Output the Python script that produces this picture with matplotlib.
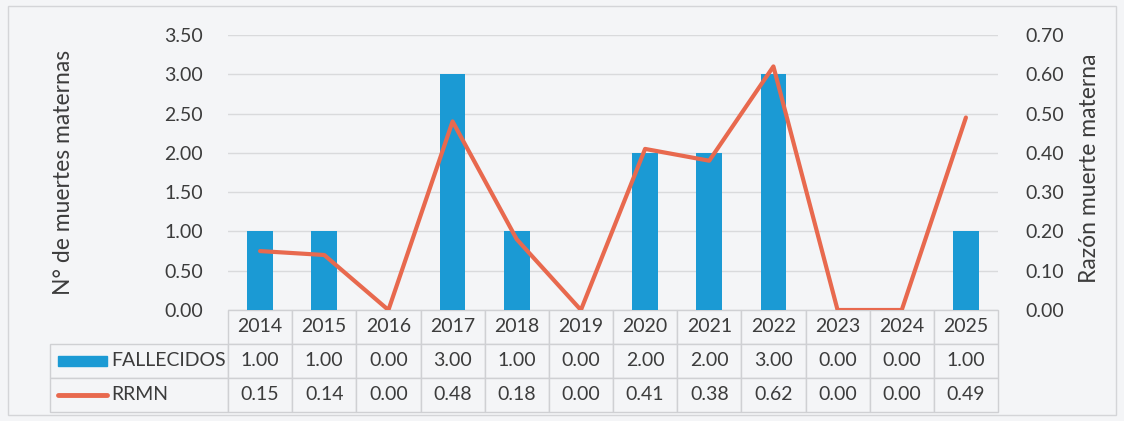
import matplotlib
matplotlib.use("Agg")
import matplotlib.pyplot as plt
import matplotlib.patches as mpatches
from matplotlib.lines import Line2D
from matplotlib.table import Table
import numpy as np

plt.rcParams['font.family'] = ['Lato', 'DejaVu Sans']

# data
years = ['2014', '2015', '2016', '2017', '2018', '2019',
         '2020', '2021', '2022', '2023', '2024', '2025']
fallecidos = [1.00, 1.00, 0.00, 3.00, 1.00, 0.00, 2.00, 2.00, 3.00, 0.00, 0.00, 1.00]
rrmn = [0.15, 0.14, 0.00, 0.48, 0.18, 0.00, 0.41, 0.38, 0.62, 0.00, 0.00, 0.49]
series_names = ['FALLECIDOS', 'RRMN']
left_ticks = [0.0, 0.5, 1.0, 1.5, 2.0, 2.5, 3.0, 3.5]
right_ticks = [0.0, 0.1, 0.2, 0.3, 0.4, 0.5, 0.6, 0.7]

bar_color = '#1b9ad4'
line_color = '#e8694e'
text_color = '#3c3c3c'
bg = '#f4f5f7'
grid_color = '#d9dadc'
edge_color = '#cfd0d3'
fs = 14

fig = plt.figure(figsize=(11.24, 4.21), dpi=100, facecolor=bg)
ax = fig.add_axes([228/1124, 1 - 310/421, 770/1124, 275/421])
ax.set_facecolor(bg)
ax2 = ax.twinx()

x = np.arange(len(years))
ax.bar(x, fallecidos, width=0.4, color=bar_color, zorder=2)
ax2.plot(x, rrmn, color=line_color, lw=3, solid_capstyle='round', zorder=3)

ax.set_xlim(-0.5, len(years) - 0.5)
ax.set_ylim(0, 3.5)
ax2.set_ylim(0, 0.7)
ax.set_yticks(left_ticks)
ax.set_yticklabels([f'{t:.2f}' for t in left_ticks])
ax2.set_yticks(right_ticks)
ax2.set_yticklabels([f'{t:.2f}' for t in right_ticks])
ax.set_xticks([])

ax.grid(axis='y', color=grid_color, lw=1, zorder=0)
ax.set_axisbelow(True)
for a in (ax, ax2):
    for s in a.spines.values():
        s.set_visible(False)
ax.tick_params(axis='y', length=0, pad=18, labelsize=fs, labelcolor=text_color)
ax2.tick_params(axis='y', length=0, pad=20, labelsize=fs, labelcolor=text_color)

fig.text(64/1124, 1 - 172/421, 'N° de muertes maternas', rotation=90,
         ha='center', va='center', fontsize=16.5, color=text_color)
fig.text(1090/1124, 1 - 168/421, 'Razón muerte materna', rotation=90,
         ha='center', va='center', fontsize=16.5, color=text_color)

# data table below the axis
px_x = 1 / 770
px_y = 1 / 275
label_w = 178 * px_x
col_w = 1 / len(years)
row_h = 34 * px_y
tbl = Table(ax, loc=None)
for c, yr in enumerate(years):
    tbl.add_cell(0, c, col_w, row_h, text=yr, loc='center', facecolor=bg, edgecolor=edge_color)
for r, vals in enumerate([fallecidos, rrmn], start=1):
    tbl.add_cell(r, -1, label_w, row_h, text='', loc='center', facecolor=bg, edgecolor=edge_color)
    for c, v in enumerate(vals):
        tbl.add_cell(r, c, col_w, row_h, text=f'{v:.2f}', loc='center',
                     facecolor=bg, edgecolor=edge_color)
tbl.auto_set_font_size(False)
tbl.set_fontsize(fs)
for cell in tbl.get_celld().values():
    cell.get_text().set_color(text_color)
    cell.set_linewidth(1)
# bbox refers to the data grid (columns >= 0); the label column hangs to the left
tbl._bbox = [0, -3 * row_h, 1, 3 * row_h]
tbl.set_clip_on(False)
ax.add_table(tbl)

# legend swatches + series names in the row label cells
row_y = [-1.5 * row_h, -2.5 * row_h]
sw_x0 = (58 - 228) * px_x
sw_x1 = (107 - 228) * px_x
ax.add_patch(mpatches.Rectangle((sw_x0, row_y[0] - 5 * px_y), sw_x1 - sw_x0, 10 * px_y,
                                transform=ax.transAxes, color=bar_color,
                                clip_on=False, zorder=5))
ax.add_line(Line2D([sw_x0, sw_x1], [row_y[1], row_y[1]], transform=ax.transAxes,
                   color=line_color, lw=3.5, solid_capstyle='round',
                   clip_on=False, zorder=5))
for name, yy in zip(series_names, row_y):
    ax.text(sw_x1 + 4 * px_x, yy, name, transform=ax.transAxes, ha='left',
            va='center', fontsize=fs, color=text_color, zorder=6)

# chart frame
fig.add_artist(mpatches.Rectangle((8/1124, 6/421), 1 - 16/1124, 1 - 12/421,
                                  transform=fig.transFigure, fill=False,
                                  edgecolor='#d4d5d8', lw=1))

fig.savefig('out.png', dpi=100, facecolor=bg)
